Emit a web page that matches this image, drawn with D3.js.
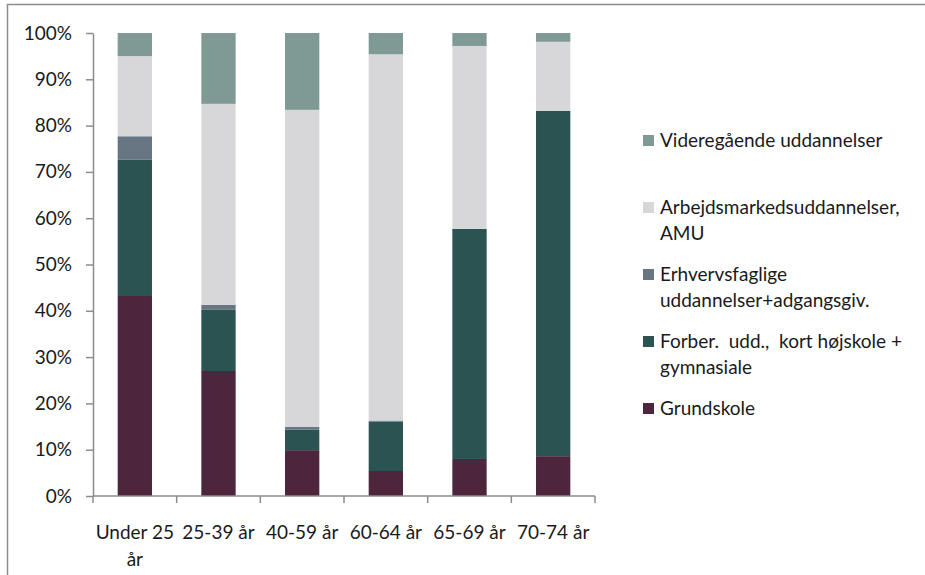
<!DOCTYPE html>
<html lang="da">
<head>
    <meta charset="utf-8">
    <style>
        body { margin: 0; background: #fff; }
        svg { display: block; }
        text { font-family: Lato, "Noto Sans", sans-serif; fill: #1a1a1a; white-space: pre; }
    </style>
</head>
<body>
    <svg width="925" height="575"></svg>
    <script src="https://cdn.jsdelivr.net/npm/d3@7/dist/d3.min.js"></script>
    <script>
        // Data (percent of each age group)
        const categories = ["Under 25 år", "25-39 år", "40-59 år", "60-64 år", "65-69 år", "70-74 år"];
        const grundskole = [43.2, 27.0, 9.9, 5.4, 8.0, 8.6];
        const forberedende = [29.5, 13.2, 4.4, 10.7, 49.7, 74.6];
        const erhvervsfaglige = [5.0, 1.1, 0.6, 0.2, 0.0, 0.0];
        const arbejdsmarked = [17.3, 43.4, 68.5, 79.1, 39.5, 14.9];
        const videregaaende = [5.0, 15.3, 16.6, 4.6, 2.8, 1.9];
        const seriesNames = [
            "Grundskole",
            "Forber.  udd.,  kort højskole + gymnasiale",
            "Erhvervsfaglige uddannelser+adgangsgiv.",
            "Arbejdsmarkedsuddannelser, AMU",
            "Videregående uddannelser"
        ];
        const yTicks = [0, 10, 20, 30, 40, 50, 60, 70, 80, 90, 100];

        const colors = ["#4d263e", "#2a5352", "#687684", "#d7d7d9", "#7f9994"];

        const svg = d3.select("svg");
        const fontSize = 19;

        // Outer frame (only top and left edges are visible)
        svg.append("path")
            .attr("d", "M7.5,575V4.5H925")
            .attr("fill", "none").attr("stroke", "#8c8c8c").attr("stroke-width", 1.5);

        const plot = { left: 93, right: 595, top: 33, bottom: 496 };

        const table = categories.map((c, i) => ({
            cat: c,
            s0: grundskole[i], s1: forberedende[i], s2: erhvervsfaglige[i],
            s3: arbejdsmarked[i], s4: videregaaende[i]
        }));
        const keys = ["s0", "s1", "s2", "s3", "s4"];
        const stacked = d3.stack().keys(keys)(table);

        const x = d3.scaleBand().domain(categories).range([plot.left, plot.right]).paddingInner(0.59).paddingOuter(0.295);
        const y = d3.scaleLinear().domain([0, 100]).range([plot.bottom, plot.top]);

        // Bars
        svg.append("g").selectAll("g").data(stacked).join("g")
            .attr("fill", (d, i) => colors[i])
            .selectAll("rect").data(d => d).join("rect")
            .attr("x", d => x(d.data.cat))
            .attr("width", x.bandwidth())
            .attr("y", d => y(d[1]))
            .attr("height", d => y(d[0]) - y(d[1]));

        // Y axis
        const yAxis = svg.append("g").attr("transform", `translate(${plot.left},0)`)
            .call(d3.axisLeft(y).tickValues(yTicks).tickFormat(d => d + "%").tickSize(7).tickSizeOuter(0));
        yAxis.selectAll("line, path").attr("stroke", "#8c8c8c").attr("stroke-width", 1.5);
        yAxis.selectAll("text").attr("font-size", fontSize).attr("x", -21).attr("font-family", null).attr("fill", "#1a1a1a");

        // X axis with ticks at band boundaries
        const xAxis = svg.append("g").attr("transform", `translate(0,${plot.bottom})`);
        xAxis.append("path").attr("d", `M${plot.left},0H${plot.right}`)
            .attr("stroke", "#8c8c8c").attr("stroke-width", 1.5);
        const step = x.step();
        xAxis.selectAll("line").data(d3.range(categories.length + 1)).join("line")
            .attr("x1", i => plot.left + i * step).attr("x2", i => plot.left + i * step)
            .attr("y1", 0).attr("y2", 7)
            .attr("stroke", "#8c8c8c").attr("stroke-width", 1.5);

        const xLabels = xAxis.selectAll("text.cat").data(categories).join("text")
            .attr("class", "cat")
            .attr("x", d => x(d) + x.bandwidth() / 2)
            .attr("y", 43)
            .attr("text-anchor", "middle")
            .attr("font-size", fontSize);
        xLabels.each(function(d) { wrap(d3.select(this), d, step - 4, 27); });

        // Legend
        const legend = svg.append("g");
        const legendTop = 147;
        const legendGap = 67;
        seriesNames.slice().reverse().forEach((name, j) => {
            const idx = seriesNames.length - 1 - j;
            const yy = legendTop + j * legendGap;
            legend.append("rect")
                .attr("x", 643).attr("y", yy - 12).attr("width", 11).attr("height", 11)
                .attr("fill", colors[idx]);
            const t = legend.append("text").attr("x", 660).attr("y", yy).attr("font-size", fontSize);
            wrap(t, name, 925 - 660 - 4, 26);
        });

        // Simple word wrap into tspans (keeps double spaces)
        function wrap(textSel, str, width, lineHeight) {
            const words = str.split(/ (?! )/);
            const x0 = textSel.attr("x");
            let line = [];
            let tspan = textSel.append("tspan").attr("x", x0).attr("dy", 0);
            words.forEach(w => {
                line.push(w);
                tspan.text(line.join(" "));
                if (tspan.node().getComputedTextLength() > width && line.length > 1) {
                    line.pop();
                    tspan.text(line.join(" "));
                    line = [w];
                    tspan = textSel.append("tspan").attr("x", x0).attr("dy", lineHeight).text(w);
                }
            });
        }
    </script>
</body>
</html>
